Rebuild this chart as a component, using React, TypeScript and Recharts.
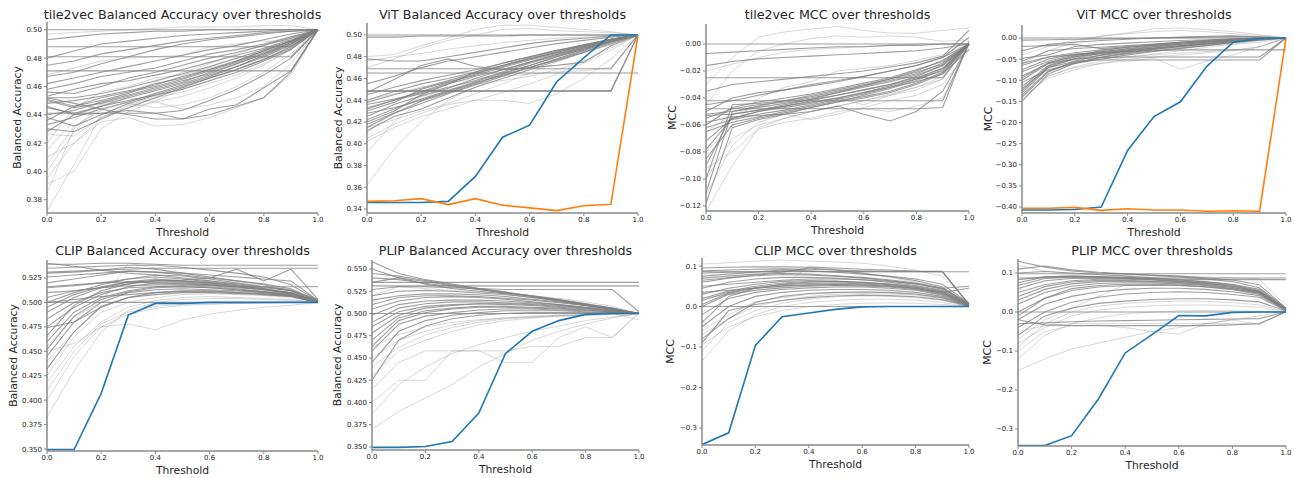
import { Line, LineChart, XAxis, YAxis } from "recharts";

const thresholds = [0, 0.1, 0.2, 0.3, 0.4, 0.5, 0.6, 0.7, 0.8, 0.9, 1.0];
const xTicks = [0, 0.2, 0.4, 0.6, 0.8, 1.0];

// ---- tile2vec balanced accuracy
const tile2vecBaDark = [
  [0.500, 0.500, 0.500, 0.500, 0.500, 0.500, 0.500, 0.500, 0.500, 0.500, 0.500],
  [0.493, 0.495, 0.497, 0.498, 0.499, 0.499, 0.500, 0.500, 0.500, 0.500, 0.500],
  [0.488, 0.488, 0.488, 0.488, 0.488, 0.488, 0.488, 0.488, 0.488, 0.488, 0.500],
  [0.481, 0.481, 0.481, 0.481, 0.481, 0.481, 0.481, 0.481, 0.481, 0.481, 0.500],
  [0.471, 0.471, 0.471, 0.471, 0.471, 0.471, 0.471, 0.471, 0.471, 0.471, 0.500],
  [0.467, 0.470, 0.476, 0.481, 0.486, 0.490, 0.493, 0.495, 0.497, 0.499, 0.500],
  [0.458, 0.462, 0.467, 0.470, 0.473, 0.478, 0.483, 0.486, 0.490, 0.495, 0.500],
  [0.452, 0.452, 0.455, 0.459, 0.464, 0.469, 0.474, 0.480, 0.486, 0.492, 0.500],
  [0.450, 0.445, 0.448, 0.453, 0.458, 0.463, 0.470, 0.476, 0.483, 0.490, 0.500],
  [0.445, 0.441, 0.446, 0.452, 0.457, 0.462, 0.468, 0.474, 0.481, 0.489, 0.500],
  [0.441, 0.441, 0.441, 0.441, 0.441, 0.443, 0.450, 0.458, 0.468, 0.480, 0.500],
  [0.438, 0.432, 0.440, 0.448, 0.454, 0.460, 0.466, 0.472, 0.479, 0.487, 0.500],
  [0.433, 0.438, 0.444, 0.449, 0.455, 0.461, 0.467, 0.474, 0.482, 0.490, 0.500],
  [0.430, 0.428, 0.437, 0.445, 0.452, 0.459, 0.466, 0.472, 0.479, 0.488, 0.500],
  [0.428, 0.440, 0.446, 0.450, 0.454, 0.458, 0.464, 0.470, 0.478, 0.486, 0.500],
  [0.452, 0.448, 0.444, 0.440, 0.437, 0.437, 0.440, 0.446, 0.452, 0.470, 0.500],
  [0.446, 0.440, 0.441, 0.443, 0.441, 0.437, 0.444, 0.447, 0.459, 0.471, 0.500],
  [0.475, 0.478, 0.483, 0.486, 0.489, 0.492, 0.494, 0.496, 0.498, 0.499, 0.500],
  [0.480, 0.485, 0.490, 0.492, 0.494, 0.496, 0.497, 0.498, 0.499, 0.500, 0.500],
  [0.456, 0.455, 0.460, 0.466, 0.470, 0.475, 0.480, 0.484, 0.489, 0.494, 0.500],
  [0.453, 0.458, 0.462, 0.464, 0.468, 0.472, 0.477, 0.482, 0.487, 0.493, 0.500],
  [0.436, 0.446, 0.452, 0.456, 0.460, 0.465, 0.471, 0.477, 0.484, 0.491, 0.500],
  [0.448, 0.450, 0.453, 0.457, 0.461, 0.467, 0.472, 0.478, 0.485, 0.492, 0.500],
  [0.440, 0.443, 0.449, 0.454, 0.459, 0.464, 0.469, 0.476, 0.483, 0.491, 0.500],
  [0.462, 0.466, 0.470, 0.474, 0.478, 0.482, 0.486, 0.489, 0.493, 0.497, 0.500],
  [0.451, 0.446, 0.450, 0.455, 0.462, 0.466, 0.472, 0.478, 0.485, 0.492, 0.500],
];
const tile2vecBaLight = [
  [0.372, 0.405, 0.440, 0.447, 0.453, 0.459, 0.466, 0.474, 0.481, 0.490, 0.500],
  [0.391, 0.400, 0.430, 0.442, 0.450, 0.458, 0.464, 0.472, 0.480, 0.488, 0.500],
  [0.400, 0.428, 0.447, 0.452, 0.449, 0.444, 0.447, 0.452, 0.460, 0.476, 0.500],
  [0.410, 0.420, 0.435, 0.438, 0.432, 0.433, 0.438, 0.445, 0.452, 0.468, 0.500],
  [0.420, 0.445, 0.456, 0.460, 0.466, 0.468, 0.473, 0.478, 0.486, 0.494, 0.500],
  [0.385, 0.430, 0.448, 0.456, 0.463, 0.470, 0.476, 0.483, 0.489, 0.495, 0.500],
  [0.497, 0.498, 0.499, 0.500, 0.501, 0.502, 0.502, 0.502, 0.503, 0.503, 0.500],
  [0.468, 0.473, 0.478, 0.480, 0.481, 0.482, 0.488, 0.490, 0.492, 0.492, 0.500],
  [0.415, 0.436, 0.450, 0.448, 0.445, 0.447, 0.452, 0.460, 0.470, 0.483, 0.500],
  [0.426, 0.425, 0.438, 0.446, 0.452, 0.456, 0.462, 0.468, 0.476, 0.486, 0.500],
  [0.405, 0.432, 0.443, 0.449, 0.455, 0.461, 0.467, 0.474, 0.482, 0.491, 0.500],
  [0.395, 0.420, 0.438, 0.445, 0.449, 0.453, 0.459, 0.466, 0.475, 0.486, 0.500],
];

// ---- ViT balanced accuracy
const vitBaDark = [
  [0.500, 0.500, 0.500, 0.500, 0.500, 0.500, 0.500, 0.500, 0.500, 0.500, 0.500],
  [0.498, 0.498, 0.499, 0.499, 0.499, 0.499, 0.500, 0.500, 0.500, 0.500, 0.500],
  [0.469, 0.469, 0.469, 0.469, 0.469, 0.469, 0.469, 0.469, 0.469, 0.469, 0.500],
  [0.465, 0.465, 0.465, 0.465, 0.465, 0.465, 0.465, 0.465, 0.465, 0.465, 0.465],
  [0.449, 0.449, 0.449, 0.449, 0.449, 0.449, 0.449, 0.449, 0.449, 0.449, 0.500],
  [0.448, 0.448, 0.448, 0.448, 0.448, 0.448, 0.448, 0.448, 0.448, 0.448, 0.500],
  [0.478, 0.476, 0.476, 0.480, 0.484, 0.488, 0.492, 0.495, 0.497, 0.499, 0.500],
  [0.440, 0.448, 0.455, 0.460, 0.466, 0.472, 0.478, 0.484, 0.490, 0.496, 0.500],
  [0.432, 0.440, 0.446, 0.452, 0.458, 0.466, 0.474, 0.481, 0.488, 0.495, 0.500],
  [0.425, 0.436, 0.444, 0.451, 0.460, 0.468, 0.475, 0.482, 0.489, 0.496, 0.500],
  [0.418, 0.428, 0.437, 0.446, 0.454, 0.462, 0.470, 0.478, 0.486, 0.494, 0.500],
  [0.412, 0.425, 0.432, 0.442, 0.452, 0.460, 0.468, 0.476, 0.484, 0.492, 0.500],
  [0.445, 0.452, 0.458, 0.463, 0.468, 0.474, 0.480, 0.486, 0.491, 0.496, 0.500],
  [0.436, 0.441, 0.447, 0.455, 0.462, 0.468, 0.475, 0.482, 0.488, 0.494, 0.500],
  [0.428, 0.433, 0.440, 0.448, 0.456, 0.463, 0.470, 0.477, 0.485, 0.493, 0.500],
  [0.455, 0.462, 0.470, 0.476, 0.480, 0.484, 0.488, 0.492, 0.495, 0.498, 0.500],
  [0.420, 0.430, 0.445, 0.455, 0.466, 0.474, 0.480, 0.486, 0.490, 0.494, 0.500],
  [0.447, 0.459, 0.472, 0.478, 0.471, 0.468, 0.470, 0.472, 0.475, 0.490, 0.500],
  [0.430, 0.438, 0.450, 0.457, 0.463, 0.470, 0.477, 0.483, 0.489, 0.495, 0.500],
  [0.422, 0.432, 0.441, 0.449, 0.457, 0.465, 0.472, 0.480, 0.487, 0.494, 0.500],
  [0.438, 0.445, 0.451, 0.458, 0.465, 0.471, 0.478, 0.484, 0.490, 0.496, 0.500],
  [0.415, 0.428, 0.439, 0.447, 0.455, 0.464, 0.472, 0.480, 0.487, 0.494, 0.500],
  [0.433, 0.440, 0.448, 0.456, 0.464, 0.472, 0.479, 0.485, 0.491, 0.496, 0.500],
];
const vitBaLight = [
  [0.362, 0.395, 0.420, 0.440, 0.452, 0.462, 0.470, 0.478, 0.486, 0.493, 0.500],
  [0.392, 0.420, 0.440, 0.448, 0.456, 0.463, 0.470, 0.477, 0.484, 0.491, 0.500],
  [0.480, 0.482, 0.490, 0.497, 0.505, 0.509, 0.509, 0.507, 0.505, 0.503, 0.500],
  [0.470, 0.478, 0.488, 0.495, 0.500, 0.505, 0.506, 0.504, 0.503, 0.502, 0.500],
  [0.405, 0.418, 0.428, 0.436, 0.440, 0.440, 0.437, 0.446, 0.460, 0.478, 0.500],
  [0.415, 0.422, 0.430, 0.437, 0.446, 0.455, 0.465, 0.475, 0.484, 0.494, 0.500],
  [0.402, 0.415, 0.425, 0.432, 0.440, 0.447, 0.455, 0.464, 0.474, 0.486, 0.500],
  [0.440, 0.446, 0.452, 0.456, 0.460, 0.462, 0.464, 0.466, 0.467, 0.470, 0.500],
  [0.476, 0.480, 0.483, 0.487, 0.490, 0.493, 0.495, 0.497, 0.498, 0.499, 0.500],
  [0.410, 0.430, 0.443, 0.450, 0.455, 0.458, 0.462, 0.468, 0.476, 0.488, 0.500],
];
const vitBaBlue = [0.346, 0.346, 0.346, 0.347, 0.370, 0.406, 0.417, 0.457, 0.479, 0.500, 0.500];
const vitBaOrange = [0.347, 0.3475, 0.3495, 0.344, 0.3495, 0.3435, 0.341, 0.3385, 0.343, 0.3443, 0.500];

// ---- tile2vec MCC
const tile2vecMccDark = [
  [0.000, 0.000, 0.000, 0.000, 0.000, 0.000, 0.000, 0.000, 0.000, 0.000, 0.000],
  [-0.007, -0.006, -0.005, -0.004, -0.003, -0.002, -0.002, -0.001, -0.001, 0.000, 0.000],
  [-0.016, -0.013, -0.011, -0.010, -0.009, -0.008, -0.007, -0.006, -0.005, -0.003, 0.000],
  [-0.025, -0.025, -0.025, -0.025, -0.025, -0.025, -0.025, -0.025, -0.025, -0.025, 0.000],
  [-0.042, -0.042, -0.042, -0.042, -0.042, -0.042, -0.042, -0.042, -0.042, -0.042, 0.000],
  [-0.048, -0.048, -0.048, -0.048, -0.048, -0.048, -0.048, -0.048, -0.048, -0.047, 0.002],
  [-0.052, -0.050, -0.046, -0.042, -0.038, -0.034, -0.030, -0.026, -0.021, -0.015, 0.000],
  [-0.055, -0.048, -0.045, -0.043, -0.040, -0.036, -0.031, -0.026, -0.020, -0.012, 0.000],
  [-0.078, -0.055, -0.050, -0.046, -0.042, -0.038, -0.034, -0.030, -0.025, -0.018, 0.000],
  [-0.085, -0.060, -0.055, -0.051, -0.047, -0.043, -0.038, -0.033, -0.027, -0.019, 0.000],
  [-0.110, -0.050, -0.047, -0.044, -0.041, -0.038, -0.034, -0.030, -0.024, -0.016, 0.000],
  [-0.118, -0.062, -0.056, -0.052, -0.047, -0.043, -0.040, -0.036, -0.030, -0.022, 0.000],
  [-0.062, -0.056, -0.052, -0.049, -0.045, -0.041, -0.037, -0.032, -0.026, -0.020, 0.000],
  [-0.050, -0.040, -0.036, -0.034, -0.031, -0.028, -0.024, -0.020, -0.016, -0.010, 0.000],
  [-0.058, -0.054, -0.053, -0.052, -0.050, -0.046, -0.052, -0.057, -0.050, -0.035, 0.000],
  [-0.045, -0.042, -0.038, -0.034, -0.030, -0.027, -0.024, -0.020, -0.016, -0.010, 0.005],
  [-0.035, -0.030, -0.028, -0.026, -0.024, -0.022, -0.020, -0.017, -0.014, -0.009, 0.010],
  [-0.072, -0.055, -0.050, -0.047, -0.044, -0.040, -0.036, -0.032, -0.028, -0.022, -0.004],
  [-0.100, -0.045, -0.044, -0.042, -0.039, -0.035, -0.031, -0.027, -0.022, -0.014, 0.000],
  [-0.065, -0.058, -0.054, -0.050, -0.046, -0.042, -0.039, -0.035, -0.029, -0.021, 0.000],
  [-0.053, -0.052, -0.049, -0.045, -0.041, -0.036, -0.032, -0.028, -0.023, -0.016, 0.000],
  [-0.090, -0.052, -0.049, -0.046, -0.043, -0.040, -0.036, -0.031, -0.026, -0.018, 0.000],
  [-0.060, -0.047, -0.043, -0.040, -0.037, -0.033, -0.029, -0.025, -0.019, -0.013, 0.000],
];
const tile2vecMccLight = [
  [-0.124, -0.090, -0.062, -0.055, -0.050, -0.046, -0.042, -0.037, -0.032, -0.024, 0.000],
  [-0.100, -0.070, -0.060, -0.055, -0.050, -0.046, -0.042, -0.038, -0.034, -0.026, 0.000],
  [-0.030, -0.010, 0.005, 0.009, 0.011, 0.013, 0.010, 0.008, 0.008, 0.010, 0.012],
  [-0.045, -0.020, -0.005, 0.000, 0.004, 0.006, 0.005, 0.006, 0.005, 0.002, 0.003],
  [-0.080, -0.060, -0.040, -0.032, -0.028, -0.020, -0.018, -0.016, -0.012, -0.008, 0.000],
  [-0.092, -0.080, -0.063, -0.058, -0.055, -0.050, -0.048, -0.050, -0.046, -0.040, 0.000],
  [-0.020, -0.015, -0.010, -0.006, -0.004, -0.003, -0.002, -0.001, 0.000, 0.000, 0.000],
  [-0.065, -0.052, -0.046, -0.048, -0.043, -0.040, -0.045, -0.038, -0.032, -0.026, 0.000],
  [-0.112, -0.075, -0.058, -0.052, -0.056, -0.052, -0.047, -0.042, -0.038, -0.030, -0.005],
];

// ---- ViT MCC
const vitMccDark = [
  [0.000, 0.000, 0.000, 0.000, 0.000, 0.000, 0.000, 0.000, 0.000, 0.000, 0.000],
  [-0.005, -0.004, -0.003, -0.002, -0.001, 0.000, 0.001, 0.002, 0.003, 0.002, 0.000],
  [-0.030, -0.015, -0.010, -0.006, -0.003, 0.000, 0.002, 0.004, 0.005, 0.003, 0.000],
  [-0.060, -0.045, -0.040, -0.036, -0.032, -0.030, -0.028, -0.028, -0.028, -0.028, -0.028],
  [-0.090, -0.060, -0.050, -0.046, -0.045, -0.045, -0.045, -0.045, -0.045, -0.045, 0.000],
  [-0.120, -0.070, -0.055, -0.052, -0.052, -0.052, -0.052, -0.052, -0.052, -0.052, 0.000],
  [-0.150, -0.085, -0.060, -0.045, -0.035, -0.027, -0.020, -0.014, -0.008, -0.003, 0.000],
  [-0.140, -0.080, -0.055, -0.040, -0.030, -0.024, -0.018, -0.012, -0.007, -0.002, 0.000],
  [-0.130, -0.070, -0.048, -0.036, -0.028, -0.021, -0.015, -0.010, -0.005, -0.001, 0.000],
  [-0.115, -0.065, -0.045, -0.033, -0.025, -0.018, -0.012, -0.008, -0.004, -0.001, 0.000],
  [-0.100, -0.060, -0.042, -0.030, -0.022, -0.016, -0.010, -0.006, -0.003, 0.000, 0.000],
  [-0.080, -0.055, -0.040, -0.032, -0.026, -0.020, -0.015, -0.010, -0.006, -0.002, 0.000],
  [-0.065, -0.045, -0.035, -0.028, -0.022, -0.017, -0.012, -0.008, -0.004, 0.000, 0.000],
  [-0.055, -0.030, -0.025, -0.022, -0.018, -0.014, -0.010, -0.006, -0.003, 0.000, 0.000],
  [-0.048, -0.040, -0.020, -0.015, -0.012, -0.009, -0.006, -0.004, -0.002, 0.000, 0.000],
  [-0.020, -0.018, -0.015, -0.025, -0.020, -0.015, -0.010, -0.006, -0.003, -0.001, 0.000],
  [-0.105, -0.075, -0.060, -0.050, -0.040, -0.032, -0.025, -0.018, -0.010, -0.004, 0.000],
  [-0.075, -0.050, -0.038, -0.034, -0.029, -0.024, -0.019, -0.014, -0.009, -0.004, 0.000],
  [-0.135, -0.078, -0.058, -0.046, -0.037, -0.030, -0.024, -0.017, -0.011, -0.005, 0.000],
  [-0.125, -0.066, -0.050, -0.041, -0.033, -0.026, -0.020, -0.014, -0.008, -0.003, 0.000],
  [-0.095, -0.058, -0.044, -0.037, -0.031, -0.025, -0.019, -0.013, -0.008, -0.003, 0.000],
];
const vitMccLight = [
  [-0.140, -0.095, -0.075, -0.060, -0.050, -0.045, -0.040, -0.035, -0.030, -0.020, 0.000],
  [-0.120, -0.090, -0.070, -0.060, -0.055, -0.048, -0.074, -0.055, -0.040, -0.020, 0.000],
  [-0.060, -0.030, -0.010, 0.005, 0.012, 0.022, 0.024, 0.020, 0.015, 0.008, 0.000],
  [-0.040, -0.020, -0.005, 0.004, 0.010, 0.015, 0.018, 0.015, 0.010, 0.006, 0.000],
  [-0.110, -0.080, -0.060, -0.045, -0.035, -0.028, -0.022, -0.018, -0.015, -0.010, 0.000],
  [-0.090, -0.070, -0.058, -0.050, -0.044, -0.040, -0.036, -0.032, -0.028, -0.022, 0.000],
  [-0.145, -0.090, -0.068, -0.055, -0.045, -0.038, -0.030, -0.022, -0.014, -0.006, 0.000],
];
const vitMccBlue = [-0.407, -0.407, -0.406, -0.400, -0.266, -0.186, -0.151, -0.067, -0.010, -0.001, 0.000];
const vitMccOrange = [-0.403, -0.403, -0.401, -0.408, -0.404, -0.407, -0.407, -0.410, -0.409, -0.410, 0.000];

// ---- CLIP balanced accuracy
const clipBaDark = [
  [0.500, 0.500, 0.500, 0.500, 0.500, 0.500, 0.500, 0.500, 0.500, 0.500, 0.500],
  [0.539, 0.539, 0.540, 0.540, 0.539, 0.538, 0.538, 0.538, 0.538, 0.538, 0.538],
  [0.535, 0.536, 0.537, 0.538, 0.538, 0.536, 0.533, 0.530, 0.526, 0.518, 0.502],
  [0.531, 0.532, 0.533, 0.534, 0.535, 0.535, 0.535, 0.535, 0.535, 0.535, 0.535],
  [0.526, 0.528, 0.530, 0.532, 0.531, 0.530, 0.528, 0.526, 0.524, 0.522, 0.502],
  [0.516, 0.518, 0.520, 0.521, 0.520, 0.519, 0.518, 0.516, 0.516, 0.516, 0.516],
  [0.500, 0.510, 0.518, 0.524, 0.528, 0.527, 0.524, 0.520, 0.516, 0.512, 0.502],
  [0.490, 0.505, 0.515, 0.521, 0.524, 0.522, 0.520, 0.517, 0.514, 0.510, 0.501],
  [0.475, 0.495, 0.508, 0.516, 0.520, 0.520, 0.518, 0.516, 0.513, 0.509, 0.501],
  [0.460, 0.490, 0.505, 0.512, 0.516, 0.517, 0.516, 0.514, 0.511, 0.508, 0.500],
  [0.445, 0.480, 0.500, 0.510, 0.513, 0.514, 0.513, 0.512, 0.510, 0.507, 0.500],
  [0.432, 0.470, 0.496, 0.505, 0.510, 0.512, 0.512, 0.510, 0.508, 0.506, 0.500],
  [0.515, 0.517, 0.520, 0.524, 0.526, 0.524, 0.521, 0.518, 0.515, 0.512, 0.502],
  [0.505, 0.512, 0.515, 0.517, 0.518, 0.518, 0.517, 0.515, 0.513, 0.510, 0.501],
  [0.510, 0.512, 0.515, 0.519, 0.522, 0.523, 0.525, 0.534, 0.522, 0.534, 0.503],
  [0.474, 0.480, 0.495, 0.505, 0.508, 0.510, 0.510, 0.509, 0.508, 0.506, 0.500],
  [0.540, 0.537, 0.533, 0.530, 0.528, 0.525, 0.522, 0.519, 0.516, 0.513, 0.502],
  [0.520, 0.524, 0.528, 0.532, 0.531, 0.528, 0.525, 0.522, 0.519, 0.514, 0.502],
  [0.500, 0.503, 0.506, 0.508, 0.510, 0.511, 0.511, 0.510, 0.509, 0.507, 0.500],
  [0.483, 0.500, 0.510, 0.515, 0.516, 0.516, 0.515, 0.513, 0.511, 0.508, 0.500],
  [0.530, 0.531, 0.533, 0.536, 0.534, 0.530, 0.526, 0.522, 0.518, 0.512, 0.501],
  [0.466, 0.497, 0.512, 0.519, 0.523, 0.522, 0.520, 0.517, 0.514, 0.509, 0.501],
  [0.495, 0.508, 0.516, 0.521, 0.522, 0.521, 0.519, 0.516, 0.513, 0.509, 0.501],
  [0.452, 0.486, 0.503, 0.511, 0.515, 0.516, 0.515, 0.513, 0.510, 0.507, 0.500],
];
const clipBaLight = [
  [0.383, 0.430, 0.470, 0.492, 0.500, 0.503, 0.504, 0.504, 0.503, 0.502, 0.500],
  [0.400, 0.445, 0.475, 0.478, 0.472, 0.482, 0.488, 0.492, 0.495, 0.497, 0.500],
  [0.418, 0.455, 0.480, 0.495, 0.502, 0.505, 0.506, 0.505, 0.504, 0.503, 0.500],
  [0.425, 0.465, 0.490, 0.500, 0.505, 0.508, 0.509, 0.508, 0.507, 0.505, 0.500],
  [0.440, 0.470, 0.495, 0.505, 0.510, 0.512, 0.512, 0.511, 0.510, 0.507, 0.500],
  [0.455, 0.485, 0.500, 0.540, 0.535, 0.528, 0.522, 0.518, 0.514, 0.510, 0.500],
  [0.410, 0.450, 0.478, 0.490, 0.496, 0.498, 0.499, 0.499, 0.500, 0.500, 0.500],
  [0.450, 0.458, 0.475, 0.488, 0.494, 0.497, 0.498, 0.499, 0.499, 0.500, 0.500],
];
const clipBaBlue = [0.3495, 0.3495, 0.407, 0.487, 0.499, 0.499, 0.500, 0.500, 0.500, 0.500, 0.500];

// ---- PLIP balanced accuracy
const plipBaDark = [
  [0.500, 0.500, 0.500, 0.500, 0.500, 0.500, 0.500, 0.500, 0.500, 0.500, 0.500],
  [0.558, 0.545, 0.538, 0.533, 0.528, 0.524, 0.520, 0.515, 0.510, 0.505, 0.500],
  [0.545, 0.542, 0.537, 0.532, 0.528, 0.524, 0.519, 0.514, 0.509, 0.504, 0.500],
  [0.540, 0.538, 0.534, 0.530, 0.527, 0.523, 0.519, 0.515, 0.510, 0.505, 0.500],
  [0.535, 0.535, 0.535, 0.535, 0.535, 0.535, 0.535, 0.535, 0.535, 0.535, 0.535],
  [0.531, 0.531, 0.531, 0.531, 0.531, 0.531, 0.531, 0.531, 0.531, 0.531, 0.531],
  [0.527, 0.530, 0.530, 0.529, 0.528, 0.527, 0.527, 0.527, 0.527, 0.527, 0.502],
  [0.520, 0.525, 0.526, 0.525, 0.523, 0.521, 0.518, 0.515, 0.511, 0.506, 0.500],
  [0.510, 0.518, 0.520, 0.520, 0.519, 0.517, 0.515, 0.512, 0.509, 0.505, 0.500],
  [0.498, 0.510, 0.514, 0.515, 0.515, 0.514, 0.512, 0.510, 0.507, 0.504, 0.500],
  [0.485, 0.502, 0.508, 0.510, 0.511, 0.511, 0.510, 0.508, 0.506, 0.503, 0.500],
  [0.470, 0.495, 0.503, 0.506, 0.508, 0.508, 0.507, 0.506, 0.504, 0.502, 0.500],
  [0.458, 0.488, 0.497, 0.501, 0.504, 0.505, 0.505, 0.504, 0.503, 0.502, 0.500],
  [0.445, 0.480, 0.492, 0.498, 0.501, 0.503, 0.503, 0.503, 0.502, 0.501, 0.500],
  [0.425, 0.470, 0.486, 0.494, 0.498, 0.500, 0.501, 0.501, 0.501, 0.501, 0.500],
  [0.515, 0.520, 0.522, 0.522, 0.521, 0.519, 0.516, 0.513, 0.509, 0.505, 0.500],
  [0.550, 0.540, 0.533, 0.528, 0.525, 0.522, 0.518, 0.514, 0.510, 0.505, 0.500],
  [0.505, 0.514, 0.518, 0.519, 0.518, 0.516, 0.513, 0.510, 0.507, 0.504, 0.500],
  [0.535, 0.540, 0.536, 0.531, 0.527, 0.523, 0.520, 0.516, 0.511, 0.506, 0.500],
  [0.478, 0.498, 0.506, 0.509, 0.511, 0.510, 0.509, 0.507, 0.505, 0.503, 0.500],
  [0.463, 0.492, 0.501, 0.505, 0.507, 0.507, 0.506, 0.505, 0.504, 0.502, 0.500],
  [0.490, 0.506, 0.511, 0.513, 0.513, 0.512, 0.511, 0.509, 0.506, 0.503, 0.500],
];
const plipBaLight = [
  [0.370, 0.390, 0.405, 0.420, 0.440, 0.455, 0.470, 0.480, 0.488, 0.495, 0.500],
  [0.387, 0.420, 0.440, 0.455, 0.465, 0.473, 0.480, 0.486, 0.492, 0.496, 0.500],
  [0.400, 0.425, 0.425, 0.458, 0.458, 0.458, 0.463, 0.463, 0.473, 0.473, 0.500],
  [0.415, 0.445, 0.458, 0.458, 0.458, 0.445, 0.445, 0.473, 0.485, 0.473, 0.502],
  [0.430, 0.458, 0.470, 0.480, 0.487, 0.492, 0.495, 0.497, 0.498, 0.499, 0.500],
  [0.450, 0.470, 0.480, 0.487, 0.492, 0.495, 0.497, 0.498, 0.499, 0.500, 0.493],
  [0.462, 0.476, 0.485, 0.490, 0.493, 0.495, 0.496, 0.497, 0.498, 0.499, 0.500],
  [0.520, 0.530, 0.528, 0.526, 0.524, 0.523, 0.520, 0.517, 0.513, 0.508, 0.500],
  [0.440, 0.462, 0.476, 0.484, 0.490, 0.494, 0.496, 0.498, 0.499, 0.500, 0.500],
];
const plipBaBlue = [0.3495, 0.3495, 0.3505, 0.356, 0.388, 0.455, 0.480, 0.492, 0.499, 0.500, 0.500];

// ---- CLIP MCC
const clipMccDark = [
  [0.000, 0.000, 0.000, 0.000, 0.000, 0.000, 0.000, 0.000, 0.000, 0.000, 0.000],
  [0.095, 0.097, 0.098, 0.098, 0.097, 0.095, 0.092, 0.090, 0.087, 0.086, 0.086],
  [0.088, 0.090, 0.092, 0.093, 0.092, 0.090, 0.088, 0.087, 0.087, 0.087, 0.005],
  [0.082, 0.085, 0.086, 0.087, 0.087, 0.086, 0.086, 0.086, 0.086, 0.086, 0.005],
  [0.075, 0.080, 0.085, 0.090, 0.088, 0.085, 0.080, 0.075, 0.068, 0.055, 0.008],
  [0.060, 0.070, 0.078, 0.082, 0.080, 0.076, 0.072, 0.066, 0.058, 0.045, 0.006],
  [0.045, 0.060, 0.068, 0.072, 0.072, 0.070, 0.066, 0.060, 0.052, 0.040, 0.005],
  [0.030, 0.045, 0.055, 0.062, 0.064, 0.063, 0.060, 0.055, 0.048, 0.035, 0.004],
  [0.015, 0.035, 0.047, 0.054, 0.057, 0.058, 0.056, 0.052, 0.045, 0.032, 0.004],
  [0.000, 0.030, 0.040, 0.046, 0.050, 0.052, 0.051, 0.048, 0.042, 0.030, 0.003],
  [-0.020, 0.020, 0.035, 0.042, 0.046, 0.048, 0.048, 0.045, 0.040, 0.028, 0.003],
  [-0.050, 0.000, 0.025, 0.035, 0.040, 0.042, 0.042, 0.040, 0.035, 0.025, 0.002],
  [-0.080, -0.030, 0.010, 0.025, 0.032, 0.035, 0.036, 0.035, 0.031, 0.022, 0.002],
  [-0.090, -0.010, 0.005, 0.015, 0.022, 0.026, 0.028, 0.027, 0.024, 0.017, 0.001],
  [0.050, 0.055, 0.060, 0.065, 0.068, 0.068, 0.066, 0.062, 0.056, 0.045, 0.050],
  [0.035, 0.040, 0.045, 0.050, 0.052, 0.054, 0.053, 0.050, 0.045, 0.035, 0.045],
  [0.070, 0.075, 0.080, 0.085, 0.095, 0.090, 0.082, 0.074, 0.064, 0.048, 0.006],
  [-0.040, 0.025, 0.045, 0.055, 0.060, 0.062, 0.060, 0.056, 0.050, 0.038, 0.004],
  [0.086, 0.086, 0.086, 0.086, 0.086, 0.086, 0.086, 0.086, 0.086, 0.086, 0.005],
  [0.020, 0.038, 0.050, 0.058, 0.061, 0.061, 0.058, 0.054, 0.047, 0.036, 0.004],
  [0.065, 0.071, 0.076, 0.079, 0.078, 0.075, 0.070, 0.064, 0.056, 0.043, 0.006],
  [0.005, 0.033, 0.045, 0.051, 0.054, 0.055, 0.053, 0.050, 0.044, 0.033, 0.004],
];
const clipMccLight = [
  [-0.135, -0.060, -0.020, 0.000, 0.010, 0.015, 0.018, 0.018, 0.016, 0.010, 0.000],
  [-0.110, -0.040, -0.010, 0.008, 0.018, 0.024, 0.026, 0.025, 0.022, 0.015, 0.001],
  [-0.095, -0.050, -0.025, -0.010, 0.000, 0.005, 0.008, 0.009, 0.008, 0.005, 0.000],
  [0.105, 0.108, 0.112, 0.115, 0.112, 0.110, 0.107, 0.100, 0.090, 0.075, 0.010],
  [-0.070, -0.030, 0.000, 0.015, 0.025, 0.030, 0.032, 0.031, 0.028, 0.020, 0.002],
  [0.020, 0.030, 0.040, 0.048, 0.100, 0.092, 0.082, 0.072, 0.060, 0.045, 0.004],
  [-0.060, -0.020, 0.012, 0.022, 0.030, 0.034, 0.036, 0.034, 0.030, 0.022, 0.002],
];
const clipMccBlue = [-0.341, -0.312, -0.096, -0.025, -0.016, -0.007, -0.001, 0.000, 0.000, 0.000, 0.000];

// ---- PLIP MCC
const plipMccDark = [
  [0.000, 0.000, 0.000, 0.000, 0.000, 0.000, 0.000, 0.000, 0.000, 0.000, 0.000],
  [0.130, 0.115, 0.105, 0.100, 0.097, 0.095, 0.092, 0.088, 0.082, 0.070, 0.010],
  [0.110, 0.118, 0.108, 0.102, 0.098, 0.094, 0.090, 0.085, 0.078, 0.062, 0.010],
  [0.098, 0.098, 0.098, 0.098, 0.098, 0.098, 0.098, 0.098, 0.098, 0.098, 0.098],
  [0.087, 0.088, 0.088, 0.087, 0.087, 0.087, 0.087, 0.087, 0.087, 0.087, 0.087],
  [0.083, 0.090, 0.092, 0.090, 0.088, 0.086, 0.084, 0.083, 0.083, 0.083, 0.083],
  [0.075, 0.090, 0.092, 0.091, 0.089, 0.086, 0.082, 0.077, 0.070, 0.055, 0.008],
  [0.060, 0.080, 0.086, 0.087, 0.086, 0.083, 0.079, 0.074, 0.066, 0.052, 0.007],
  [0.040, 0.065, 0.077, 0.081, 0.081, 0.079, 0.076, 0.071, 0.063, 0.050, 0.007],
  [0.020, 0.050, 0.066, 0.073, 0.075, 0.075, 0.072, 0.068, 0.060, 0.048, 0.006],
  [0.000, 0.035, 0.055, 0.064, 0.068, 0.069, 0.068, 0.064, 0.057, 0.045, 0.005],
  [-0.020, 0.020, 0.040, 0.052, 0.058, 0.061, 0.061, 0.058, 0.052, 0.042, 0.005],
  [-0.040, 0.000, 0.025, 0.038, 0.046, 0.050, 0.052, 0.050, 0.045, 0.038, 0.004],
  [-0.060, -0.010, 0.010, 0.022, 0.028, 0.032, 0.034, 0.034, 0.031, 0.026, 0.003],
  [-0.030, -0.028, -0.025, -0.023, -0.022, -0.021, -0.020, -0.019, -0.018, -0.017, 0.000],
  [-0.020, -0.033, -0.035, -0.035, -0.035, -0.035, -0.035, -0.035, -0.033, -0.030, 0.000],
  [0.050, 0.070, 0.080, 0.084, 0.084, 0.082, 0.078, 0.073, 0.066, 0.054, 0.008],
  [-0.010, 0.035, 0.060, 0.068, 0.071, 0.071, 0.069, 0.065, 0.059, 0.048, 0.006],
  [0.100, 0.104, 0.100, 0.096, 0.092, 0.088, 0.083, 0.078, 0.071, 0.058, 0.009],
  [0.030, 0.058, 0.072, 0.078, 0.079, 0.078, 0.075, 0.070, 0.063, 0.051, 0.007],
  [0.068, 0.086, 0.090, 0.089, 0.087, 0.084, 0.080, 0.075, 0.068, 0.053, 0.008],
];
const plipMccLight = [
  [-0.150, -0.120, -0.095, -0.080, -0.065, -0.050, -0.040, -0.030, -0.020, -0.010, 0.000],
  [-0.120, -0.060, -0.030, -0.015, -0.005, 0.000, 0.003, 0.004, 0.003, 0.002, 0.000],
  [-0.100, -0.050, -0.035, -0.034, -0.040, -0.050, -0.057, -0.030, -0.020, -0.032, 0.002],
  [-0.080, -0.040, -0.010, 0.005, 0.012, 0.016, 0.018, 0.018, 0.016, 0.012, 0.001],
  [0.120, 0.105, 0.098, 0.095, 0.093, 0.092, 0.092, 0.090, 0.088, 0.085, 0.015],
  [-0.070, -0.020, 0.010, 0.040, 0.070, 0.074, 0.072, 0.068, 0.060, 0.048, 0.006],
  [-0.050, -0.035, -0.030, -0.030, -0.030, -0.030, -0.030, -0.030, -0.030, -0.030, 0.000],
  [-0.090, -0.030, 0.000, 0.015, 0.022, 0.026, 0.028, 0.027, 0.024, 0.018, 0.002],
];
const plipMccBlue = [-0.3425, -0.3425, -0.317, -0.223, -0.105, -0.058, -0.009, -0.010, -0.001, 0.000, 0.000];

// ---- tick labels
const ticksT2vBa = [0.38, 0.40, 0.42, 0.44, 0.46, 0.48, 0.50];
const ticksVitBa = [0.34, 0.36, 0.38, 0.40, 0.42, 0.44, 0.46, 0.48, 0.50];
const ticksT2vMcc = [-0.12, -0.10, -0.08, -0.06, -0.04, -0.02, 0.0];
const ticksVitMcc = [-0.40, -0.35, -0.30, -0.25, -0.20, -0.15, -0.10, -0.05, 0.0];
const ticksClipBa = [0.350, 0.375, 0.400, 0.425, 0.450, 0.475, 0.500, 0.525];
const ticksPlipBa = [0.350, 0.375, 0.400, 0.425, 0.450, 0.475, 0.500, 0.525, 0.550];
const ticksMccWide = [-0.3, -0.2, -0.1, 0.0, 0.1];

type PanelSpec = {
  title: string;
  yLabel: string;
  dark: number[][];
  light: number[][];
  blue?: number[];
  orange?: number[];
  domain: [number, number];
  ticks: number[];
  digits: number;
  left: number;
  top: number;
  width: number;
  height: number;
  yAxisWidth: number;
};

const panels: PanelSpec[] = [
  { title: "tile2vec Balanced Accuracy over thresholds", yLabel: "Balanced Accuracy", dark: tile2vecBaDark, light: tile2vecBaLight, domain: [0.3706, 0.5055], ticks: ticksT2vBa, digits: 2, left: 47, top: 22, width: 271, height: 191, yAxisWidth: 60 },
  { title: "ViT Balanced Accuracy over thresholds", yLabel: "Balanced Accuracy", dark: vitBaDark, light: vitBaLight, blue: vitBaBlue, orange: vitBaOrange, domain: [0.3363, 0.511], ticks: ticksVitBa, digits: 2, left: 367, top: 23, width: 271, height: 190, yAxisWidth: 58 },
  { title: "tile2vec MCC over thresholds", yLabel: "MCC", dark: tile2vecMccDark, light: tile2vecMccLight, domain: [-0.1237, 0.0148], ticks: ticksT2vMcc, digits: 2, left: 706, top: 24, width: 263, height: 187, yAxisWidth: 68 },
  { title: "ViT MCC over thresholds", yLabel: "MCC", dark: vitMccDark, light: vitMccLight, blue: vitMccBlue, orange: vitMccOrange, domain: [-0.4142, 0.0308], ticks: ticksVitMcc, digits: 2, left: 1022, top: 25, width: 264, height: 188, yAxisWidth: 68 },
  { title: "CLIP Balanced Accuracy over thresholds", yLabel: "Balanced Accuracy", dark: clipBaDark, light: clipBaLight, blue: clipBaBlue, domain: [0.348, 0.5434], ticks: ticksClipBa, digits: 3, left: 47, top: 260, width: 271, height: 191, yAxisWidth: 68 },
  { title: "PLIP Balanced Accuracy over thresholds", yLabel: "Balanced Accuracy", dark: plipBaDark, light: plipBaLight, blue: plipBaBlue, domain: [0.3466, 0.5601], ticks: ticksPlipBa, digits: 3, left: 372, top: 260, width: 267, height: 190, yAxisWidth: 70 },
  { title: "CLIP MCC over thresholds", yLabel: "MCC", dark: clipMccDark, light: clipMccLight, blue: clipMccBlue, domain: [-0.342, 0.1198], ticks: ticksMccWide, digits: 1, left: 702, top: 258, width: 267, height: 187, yAxisWidth: 64 },
  { title: "PLIP MCC over thresholds", yLabel: "MCC", dark: plipMccDark, light: plipMccLight, blue: plipMccBlue, domain: [-0.3436, 0.1359], ticks: ticksMccWide, digits: 1, left: 1018, top: 259, width: 268, height: 187, yAxisWidth: 62 },
];

const GREY = "#7f7f7f";
const AXIS = "#8a8a8a";
const TEXT = "#262626";

function fmt(v: number, digits: number) {
  const s = Math.abs(v).toFixed(digits);
  return v < -1e-9 ? "\u2212" + s : s;
}

function buildRows(p: PanelSpec) {
  return thresholds.map((t, i) => {
    const row: Record<string, number> = { t };
    p.light.forEach((s, j) => (row[`l${j}`] = s[i]));
    p.dark.forEach((s, j) => (row[`d${j}`] = s[i]));
    if (p.blue) row.blue = p.blue[i];
    if (p.orange) row.orange = p.orange[i];
    return row;
  });
}

function Panel({ p }: { p: PanelSpec }) {
  const mTop = 6;
  const mRight = 8;
  const xH = 38;
  const W = p.yAxisWidth;
  const rows = buildRows(p);
  const titleTop = p.top < 200 ? 15 : 251;
  return (
    <>
      <div
        style={{
          position: "absolute",
          left: p.left + p.width / 2 - 200,
          width: 400,
          top: titleTop - 9,
          height: 18,
          lineHeight: "18px",
          textAlign: "center",
          fontSize: 12.7,
          color: TEXT,
          whiteSpace: "nowrap",
        }}
      >
        {p.title}
      </div>
      <div style={{ position: "absolute", left: p.left - W, top: p.top - mTop }}>
        <LineChart
          width={W + p.width + mRight}
          height={mTop + p.height + xH}
          data={rows}
          margin={{ top: mTop, right: mRight, bottom: 0, left: 0 }}
        >
          <XAxis
            type="number"
            dataKey="t"
            domain={[0, 1]}
            ticks={xTicks}
            tickFormatter={(v: number) => v.toFixed(1)}
            height={xH}
            axisLine={{ stroke: AXIS, strokeWidth: 1.5 }}
            tickLine={{ stroke: AXIS }}
            tickSize={3}
            tickMargin={1}
            tick={{ fontSize: 7, fill: TEXT }}
            interval={0}
            label={{ value: "Threshold", position: "center", fontSize: 10.8, fill: TEXT }}
          />
          <YAxis
            type="number"
            domain={p.domain}
            ticks={p.ticks}
            allowDataOverflow
            tickFormatter={(v: number) => fmt(v, p.digits)}
            width={W}
            axisLine={{ stroke: AXIS, strokeWidth: 1.5 }}
            tickLine={{ stroke: AXIS }}
            tickSize={3}
            tickMargin={2}
            tick={{ fontSize: 7, fill: TEXT }}
            interval={0}
            label={{ value: p.yLabel, position: "center", angle: -90, fontSize: 10.8, fill: TEXT }}
          />
          {p.light.map((_, j) => (
            <Line
              key={`l${j}`}
              dataKey={`l${j}`}
              type="linear"
              stroke={GREY}
              strokeOpacity={0.3}
              strokeWidth={1}
              dot={false}
              activeDot={false}
              isAnimationActive={false}
            />
          ))}
          {p.dark.map((_, j) => (
            <Line
              key={`d${j}`}
              dataKey={`d${j}`}
              type="linear"
              stroke={GREY}
              strokeOpacity={0.75}
              strokeWidth={1.1}
              dot={false}
              activeDot={false}
              isAnimationActive={false}
            />
          ))}
          {p.blue && (
            <Line dataKey="blue" type="linear" stroke="#1f77b4" strokeWidth={1.6} dot={false} activeDot={false} isAnimationActive={false} />
          )}
          {p.orange && (
            <Line dataKey="orange" type="linear" stroke="#ff7f0e" strokeWidth={1.6} dot={false} activeDot={false} isAnimationActive={false} />
          )}
        </LineChart>
      </div>
    </>
  );
}

export default function App() {
  return (
    <div
      style={{
        position: "absolute",
        left: 0,
        top: 0,
        width: 1294,
        height: 478,
        background: "#ffffff",
        overflow: "hidden",
        fontFamily: "'DejaVu Sans', sans-serif",
      }}
    >
      {panels.map((p) => (
        <Panel key={p.title} p={p} />
      ))}
    </div>
  );
}
